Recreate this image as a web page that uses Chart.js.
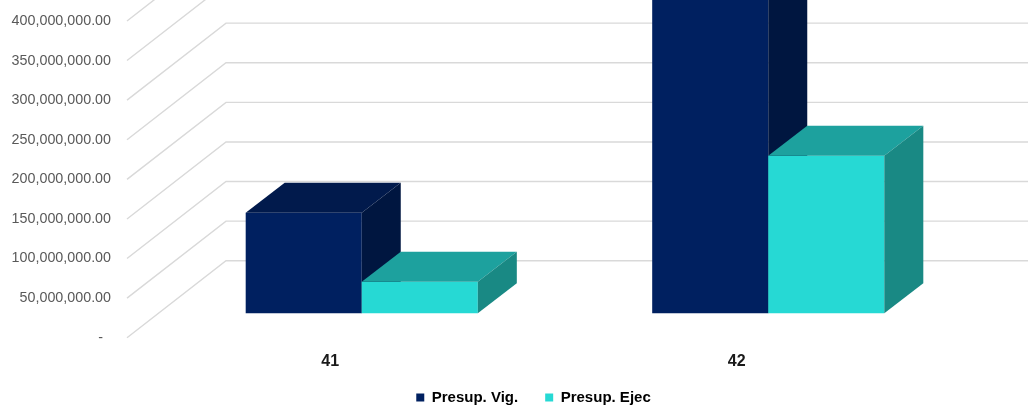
<!DOCTYPE html>
<html><head><meta charset="utf-8">
<style>html,body{margin:0;padding:0;background:#fff;overflow:hidden;}</style>
<script src="https://cdn.jsdelivr.net/npm/chart.js@4/dist/chart.umd.min.js"></script>
</head><body>
<canvas id="c" width="1028" height="408"></canvas>
<script>
const categories = ['41', '42'];
const presupVig = [127000000, 430000000];
const presupEjec = [39800000, 199000000];
const seriesNames = ['Presup. Vig.', 'Presup. Ejec'];
const yTickValues = [0, 50000000, 100000000, 150000000, 200000000, 250000000, 300000000, 350000000, 400000000];
const yMax = 426500000;

const DEPTH = {wallX: 99, wallY: -77, barX: 31.5, barY: -24.5, boxX: 39, boxY: -30};

Chart.defaults.font.family = '"Liberation Sans", Arial, sans-serif';

const threeD = {
  id: 'threeD',
  afterLayout(chart) {
    const x = chart.scales.x;
    x.bottom = x.top + 45;
  },
  beforeDatasetsDraw(chart) {
    const {ctx, chartArea, scales: {y}} = chart;
    ctx.save();
    ctx.strokeStyle = '#d9d9d9';
    ctx.lineWidth = 1.4;
    y.ticks.forEach(t => {
      const py = y.getPixelForValue(t.value);
      ctx.beginPath();
      ctx.moveTo(chartArea.left, py);
      ctx.lineTo(chartArea.left + DEPTH.wallX, py + DEPTH.wallY);
      ctx.lineTo(chart.width, py + DEPTH.wallY);
      ctx.stroke();
    });
    ctx.restore();

    ctx.save();
    ctx.translate(DEPTH.barX, DEPTH.barY);
    chart.data.datasets.forEach((ds, i) => {
      const meta = chart.getDatasetMeta(i);
      meta.data.forEach(el => {
        el.draw(ctx);
        const {x, y: top, base, width} = el.getProps(['x', 'y', 'base', 'width'], true);
        const l = x - width / 2, r = x + width / 2;
        const dx = DEPTH.boxX, dy = DEPTH.boxY;
        ctx.fillStyle = ds.topColor;
        ctx.beginPath();
        ctx.moveTo(l, top); ctx.lineTo(r, top); ctx.lineTo(r + dx, top + dy); ctx.lineTo(l + dx, top + dy);
        ctx.closePath(); ctx.fill();
        ctx.fillStyle = ds.sideColor;
        ctx.beginPath();
        ctx.moveTo(r, top); ctx.lineTo(r + dx, top + dy); ctx.lineTo(r + dx, base + dy); ctx.lineTo(r, base);
        ctx.closePath(); ctx.fill();
      });
    });
    ctx.restore();
    return false;
  }
};

new Chart(document.getElementById('c'), {
  type: 'bar',
  data: {
    labels: categories,
    datasets: [
      {label: seriesNames[0], data: presupVig, backgroundColor: '#002060', topColor: '#011a4c', sideColor: '#001640',
       categoryPercentage: 0.571, barPercentage: 1},
      {label: seriesNames[1], data: presupEjec, backgroundColor: '#26d9d4', topColor: '#1da19e', sideColor: '#198984',
       categoryPercentage: 0.571, barPercentage: 1}
    ]
  },
  options: {
    responsive: false,
    animation: false,
    layout: {padding: {left: 0, right: 88, top: 0, bottom: -7}},
    scales: {
      x: {
        grid: {display: false, drawTicks: false},
        border: {display: false},
        ticks: {padding: 14, color: '#1a1a1a', font: {size: 16, weight: 'bold'}},
        afterFit(s) { s.height = 25.3; s.paddingLeft = 0; s.paddingRight = 0; }
      },
      y: {
        min: 0, max: yMax,
        grid: {display: false, drawTicks: false},
        border: {display: false},
        ticks: {
          padding: 16, color: '#595959', font: {size: 14.3},
          callback: v => v === 0 ? '-  ' : Number(v).toLocaleString('en-US', {minimumFractionDigits: 2, maximumFractionDigits: 2})
        },
        afterBuildTicks(s) { s.ticks = yTickValues.map(v => ({value: v})); },
        afterFit(s) { s.width = 127; s.paddingTop = 0; s.paddingBottom = 0; }
      }
    },
    plugins: {
      legend: {
        position: 'bottom', fullSize: false,
        labels: {boxWidth: 8, boxHeight: 8, padding: 27, color: '#000', font: {size: 15, weight: 'bold'}}
      },
      tooltip: {enabled: false}
    }
  },
  plugins: [threeD]
});
</script>
</body></html>
